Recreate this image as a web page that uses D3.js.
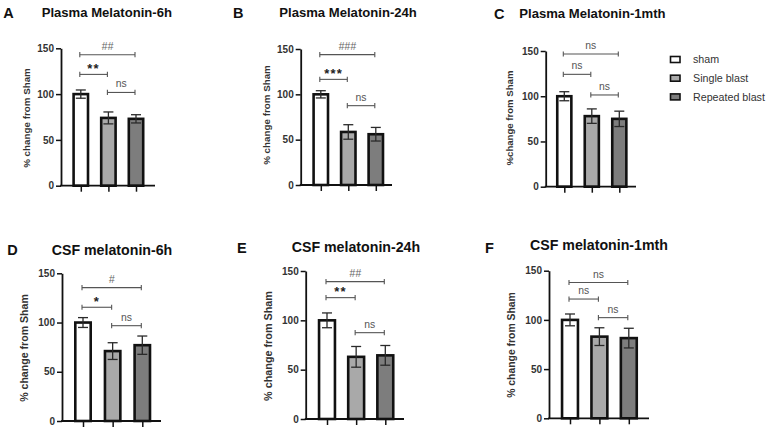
<!DOCTYPE html>
<html><head><meta charset="utf-8">
<script src="https://cdn.jsdelivr.net/npm/d3@7"></script>
<style>body{margin:0;background:#fff} svg{display:block;font-family:"Liberation Sans",Arial,sans-serif}</style>
</head><body><svg id="c" width="770" height="431"></svg>
<script>
// ---------------- data ----------------
const panelLetters = ["A","B","C","D","E","F"];
const panelTitles = ["Plasma Melatonin-6h","Plasma Melatonin-24h","Plasma Melatonin-1mth",
                     "CSF melatonin-6h","CSF melatonin-24h","CSF melatonin-1mth"];
const yAxisTitles = ["% change from Sham","% change from Sham","%change from Sham",
                     "% change from Sham","% change from Sham","% change from Sham"];
const groups = ["sham","Single blast","Repeated blast"];
const meanValues = [[100,74,73],[100,58.5,56],[100,78,75],[100,71,77],[100,63,64.5],[100,83,81.5]];
const semValues  = [[4.5,6.5,4.5],[4,8,7.5],[5,8,8.5],[5,8.5,9.3],[7.5,10.5,10],[6,9,10]];
const yTickValues = [0,50,100,150];
const comparisons = [["sham","Repeated blast"],["sham","Single blast"],["Single blast","Repeated blast"]];
const sigLabels  = [["##","**","ns"],["###","***","ns"],["ns","ns","ns"],["#","*","ns"],["##","**","ns"],["ns","ns","ns"]];
const sigHeights = [[143,121.5,101.8],[143.8,116.5,87.5],[146.7,124.2,101.4],[135.5,115.5,96.8],[139.2,123,87.5],[138,121.2,102.3]];

// ---------------- layout (positions / sizes) ----------------
const layout = [
  {ax:61,  axEnd:155, yTop:48.3, yBot:185.7, c0:80.8,  c2:136,   bw:17,   tx:41.7,  ty:12.3, tfs:13.1, lx:3.3,  ly:12.3, ylx:26.7, yly:118, yfs:9.8},
  {ax:300.7,axEnd:392,yTop:49,   yBot:185,   c0:320.8, c2:375.8, bw:17,   tx:279.3, ty:12.3, tfs:13.1, lx:233,  ly:12.3, ylx:267,  yly:115, yfs:9.8},
  {ax:545.7,axEnd:636,yTop:51,   yBot:186.7, c0:564.3, c2:619.3, bw:16.7, tx:519.3, ty:13.3, tfs:13.1, lx:494,  ly:13.3, ylx:510,  yly:118, yfs:9.6},
  {ax:62,  axEnd:161, yTop:273.3,yBot:421,   c0:83,    c2:142.3, bw:18,   tx:51.7,  ty:250,  tfs:14.2, lx:7.3,  ly:250,  ylx:24,   yly:348, yfs:10.6},
  {ax:305.7,axEnd:404,yTop:271,  yBot:419,   c0:327,   c2:385.3, bw:18.5, tx:291.7, ty:246.7,tfs:14.2, lx:237,  ly:248,  ylx:268,  yly:346, yfs:10.8},
  {ax:549, axEnd:649, yTop:270.7,yBot:418.3, c0:570,   c2:628.8, bw:18.5, tx:530,   ty:245,  tfs:14.2, lx:485,  ly:248,  ylx:511.7,yly:345, yfs:10.4}
];

const svg = d3.select("#c");
const color = d3.scaleOrdinal().domain(groups).range(["#ffffff","#a9a9a9","#7d7d7d"]);
const BS = 2.6; // bar stroke

layout.forEach((L,i)=>{
  const g = svg.append("g");
  const y = d3.scaleLinear().domain([0,150]).range([L.yBot,L.yTop]);
  const x = d3.scalePoint().domain(groups).range([L.c0,L.c2]);

  g.append("text").attr("x",L.lx).attr("y",L.ly+0.36*14.5)
    .attr("font-size",14.5).attr("font-weight","bold").attr("fill","#111").text(panelLetters[i]);
  g.append("text").attr("x",L.tx).attr("y",L.ty+0.36*L.tfs)
    .attr("font-size",L.tfs).attr("font-weight","bold").attr("fill","#111").text(panelTitles[i]);

  g.append("text").attr("transform",`translate(${L.ylx},${L.yly}) rotate(-90)`)
    .attr("text-anchor","middle").attr("dy","0.35em")
    .attr("font-size",L.yfs).attr("font-weight","bold").attr("fill","#333").text(yAxisTitles[i]);

  g.selectAll("rect.bar").data(groups).join("rect").attr("class","bar")
    .attr("x",d=>x(d)-(L.bw-BS)/2).attr("width",L.bw-BS)
    .attr("y",(d,j)=>y(meanValues[i][j]))
    .attr("height",(d,j)=>y(0)-y(meanValues[i][j]))
    .attr("fill",d=>color(d)).attr("stroke","#111").attr("stroke-width",BS);

  const eb = g.selectAll("g.eb").data(groups).join("g").attr("class","eb")
    .attr("stroke","#2a2a2a").attr("stroke-width",1.3);
  eb.append("line").attr("x1",d=>x(d)).attr("x2",d=>x(d))
    .attr("y1",(d,j)=>y(meanValues[i][j]-semValues[i][j]))
    .attr("y2",(d,j)=>y(meanValues[i][j]+semValues[i][j]));
  [1,-1].forEach(s=>{
    eb.append("line").attr("x1",d=>x(d)-5).attr("x2",d=>x(d)+5)
      .attr("y1",(d,j)=>y(meanValues[i][j]+s*semValues[i][j]))
      .attr("y2",(d,j)=>y(meanValues[i][j]+s*semValues[i][j]));
  });

  const ya = g.append("g").attr("transform",`translate(${L.ax},0)`)
    .call(d3.axisLeft(y).tickValues(yTickValues).tickSize(5).tickSizeOuter(0).tickPadding(2));
  ya.select(".domain").attr("stroke","#111").attr("stroke-width",1.8);
  ya.selectAll(".tick line").attr("stroke","#111").attr("stroke-width",1.5);
  ya.selectAll(".tick text").attr("font-size",10).attr("font-weight","bold").attr("fill","#333")
    .attr("font-family","Liberation Sans, Arial, sans-serif");

  g.append("line").attr("x1",L.ax-0.9).attr("x2",L.axEnd).attr("y1",y(0)).attr("y2",y(0))
    .attr("stroke","#111").attr("stroke-width",1.8);
  const xa = g.append("g").attr("transform",`translate(0,${y(0)})`)
    .call(d3.axisBottom(x).tickSize(6).tickSizeOuter(0).tickFormat(""));
  xa.select(".domain").remove();
  xa.selectAll(".tick line").attr("stroke","#111").attr("stroke-width",1.5);

  comparisons.forEach((c,k)=>{
    const x1 = x(c[0])-1, x2 = x(c[1])-1, yy = y(sigHeights[i][k]);
    const b = g.append("g").attr("stroke","#555").attr("stroke-width",1.1);
    b.append("line").attr("x1",x1).attr("x2",x2).attr("y1",yy).attr("y2",yy);
    b.append("line").attr("x1",x1).attr("x2",x1).attr("y1",yy-2.6).attr("y2",yy+2.6);
    b.append("line").attr("x1",x2).attr("x2",x2).attr("y1",yy-2.6).attr("y2",yy+2.6);
    const lab = sigLabels[i][k];
    const t = g.append("text").attr("x",(x1+x2)/2).attr("text-anchor","middle").text(lab);
    if (lab.startsWith("*")) {
      t.attr("y",yy-1.5).attr("font-size",13).attr("font-weight","bold").attr("fill","#222")
       .attr("letter-spacing",1.2);
    } else if (lab.startsWith("#")) {
      t.attr("y",yy-4.5).attr("font-size",10.5).attr("font-style","italic").attr("fill","#666");
    } else {
      t.attr("y",yy-5).attr("font-size",10.4).attr("fill","#555");
    }
  });
});

const lg = svg.append("g");
groups.forEach((d,j)=>{
  const cy = 59.5 + j*18.7;
  lg.append("rect").attr("x",670.5).attr("y",cy-3).attr("width",9.5).attr("height",6)
    .attr("fill",color(d)).attr("stroke","#111").attr("stroke-width",1.6);
  lg.append("text").attr("x",693).attr("y",cy+0.36*10.7).attr("font-size",10.7).attr("fill","#333").text(d);
});
</script></body></html>
